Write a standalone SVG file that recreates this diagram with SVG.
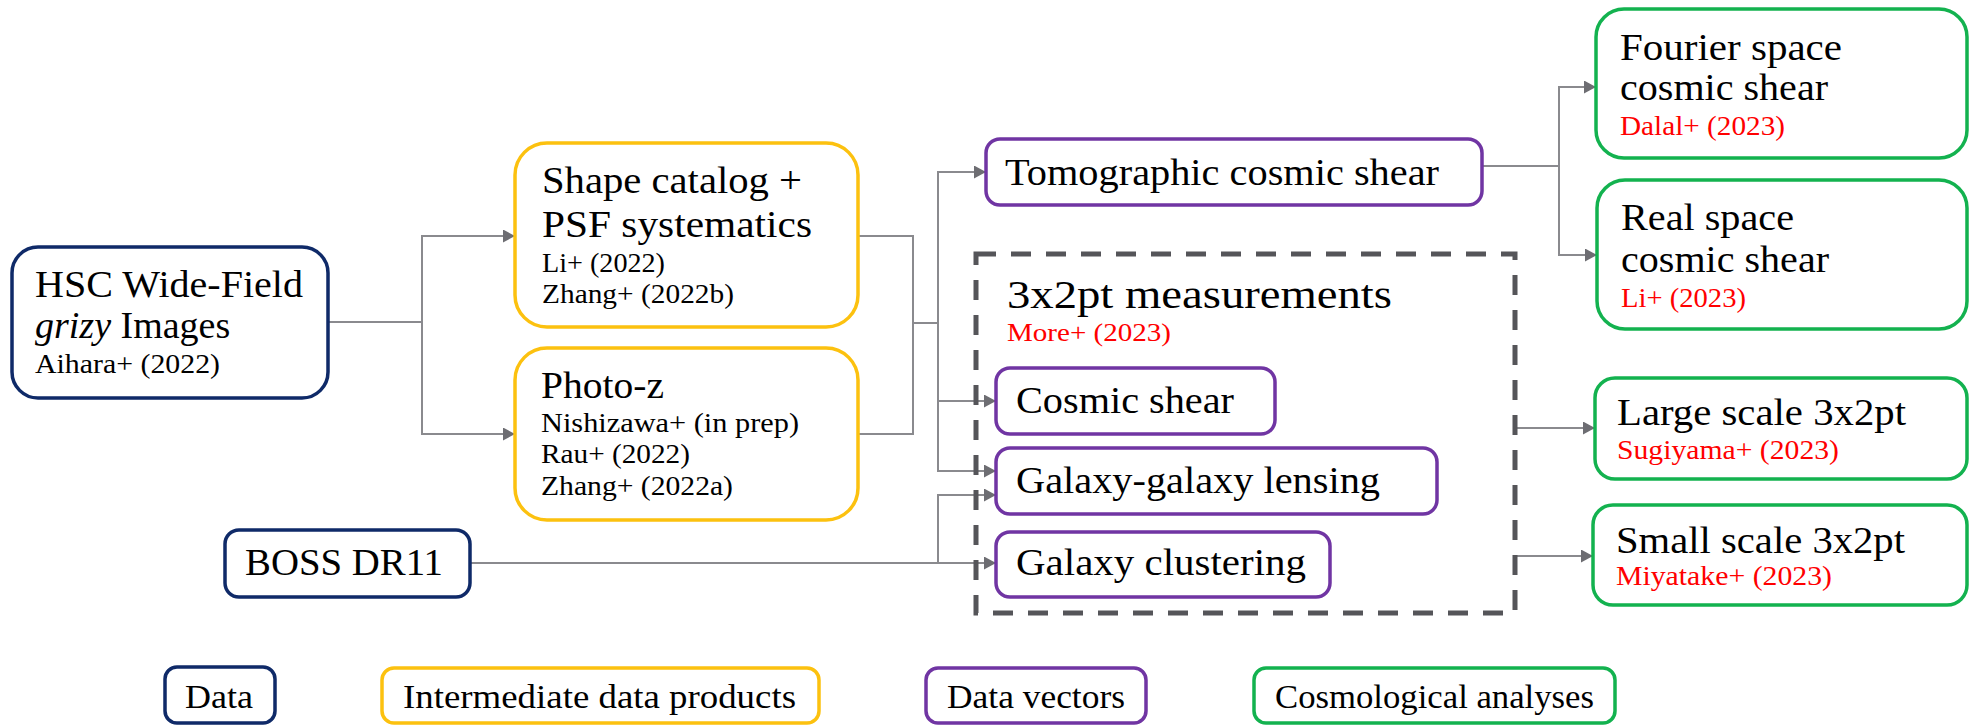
<svg xmlns="http://www.w3.org/2000/svg" width="1975" height="725" viewBox="0 0 1975 725">
<defs>
<marker id="arr" markerUnits="userSpaceOnUse" markerWidth="13" markerHeight="13" refX="12" refY="6.5" orient="auto">
<path d="M0,0 L12,6.5 L0,13 z" fill="#6d6d72"/>
</marker>
<style>
.t{font-family:"Liberation Serif","Times New Roman",serif;fill:#000}
.m{font-size:38px}
.s{font-size:28px}
.l{font-size:34px}
.red{fill:#ff0000}
.box{fill:#fff;stroke-width:3.5}
.navy{stroke:#0f2a68}
.gold{stroke:#fcc10f}
.purp{stroke:#7035a3}
.grn{stroke:#13b24f}
.con{fill:none;stroke:#8a8a8e;stroke-width:2}
.dash{fill:none;stroke:#555559;stroke-width:5;stroke-dasharray:20 15}
</style>
</defs>
<rect width="1975" height="725" fill="#fff"/>

<g id="connectors">
<path class="con" d="M328,322 H422 V236 H515" marker-end="url(#arr)"/>
<path class="con" d="M422,322 V434 H515" marker-end="url(#arr)"/>
<path class="con" d="M858,236 H913 V434 H858"/>
<path class="con" d="M913,323 H938"/>
<path class="con" d="M938,323 V172 H986" marker-end="url(#arr)"/>
<path class="con" d="M938,323 V401 H996" marker-end="url(#arr)"/>
<path class="con" d="M938,401 V471 H996" marker-end="url(#arr)"/>
<path class="con" d="M470,563 H996" marker-end="url(#arr)"/>
<path class="con" d="M938,563 V495 H996" marker-end="url(#arr)"/>
<path class="con" d="M1482,166 H1559 V87 H1596" marker-end="url(#arr)"/>
<path class="con" d="M1559,166 V255 H1597" marker-end="url(#arr)"/>
<path class="con" d="M1515,428 H1595" marker-end="url(#arr)"/>
<path class="con" d="M1515,556 H1593" marker-end="url(#arr)"/>
</g>

<g id="group-3x2pt">
<rect class="dash" x="976" y="254" width="539" height="359"/>
<text class="t" x="1007" y="308" font-size="39" textLength="385" lengthAdjust="spacingAndGlyphs">3x2pt measurements</text>
<text class="t red" x="1007" y="341" font-size="26" textLength="164" lengthAdjust="spacingAndGlyphs">More+ (2023)</text>
</g>

<g id="hsc">
<rect class="box navy" x="12" y="247" width="316" height="151" rx="26"/>
<text class="t m" x="35" y="297" textLength="268" lengthAdjust="spacingAndGlyphs">HSC Wide-Field</text>
<text class="t m" x="35" y="338"><tspan font-style="italic">grizy</tspan> Images</text>
<text class="t s" x="35" y="373" textLength="185" lengthAdjust="spacingAndGlyphs">Aihara+ (2022)</text>
</g>

<g id="boss">
<rect class="box navy" x="225" y="530" width="245" height="67" rx="14"/>
<text class="t m" x="245" y="575" textLength="198" lengthAdjust="spacingAndGlyphs">BOSS DR11</text>
</g>

<g id="shape">
<rect class="box gold" x="515" y="143" width="343" height="184" rx="32"/>
<text class="t m" x="542" y="193" textLength="260" lengthAdjust="spacingAndGlyphs">Shape catalog +</text>
<text class="t m" x="542" y="237" textLength="270" lengthAdjust="spacingAndGlyphs">PSF systematics</text>
<text class="t s" x="542" y="272" textLength="123" lengthAdjust="spacingAndGlyphs">Li+ (2022)</text>
<text class="t s" x="542" y="303" textLength="192" lengthAdjust="spacingAndGlyphs">Zhang+ (2022b)</text>
</g>

<g id="photoz">
<rect class="box gold" x="515" y="348" width="343" height="172" rx="32"/>
<text class="t m" x="541" y="398" textLength="123" lengthAdjust="spacingAndGlyphs">Photo-z</text>
<text class="t s" x="541" y="432" textLength="258" lengthAdjust="spacingAndGlyphs">Nishizawa+ (in prep)</text>
<text class="t s" x="541" y="463" textLength="149" lengthAdjust="spacingAndGlyphs">Rau+ (2022)</text>
<text class="t s" x="541" y="495" textLength="192" lengthAdjust="spacingAndGlyphs">Zhang+ (2022a)</text>
</g>

<g id="tomographic">
<rect class="box purp" x="986" y="139" width="496" height="66" rx="14"/>
<text class="t m" x="1005" y="185" textLength="434" lengthAdjust="spacingAndGlyphs">Tomographic cosmic shear</text>
</g>

<g id="cosmic-shear">
<rect class="box purp" x="996" y="368" width="279" height="66" rx="14"/>
<text class="t m" x="1016" y="413" textLength="218" lengthAdjust="spacingAndGlyphs">Cosmic shear</text>
</g>

<g id="ggl">
<rect class="box purp" x="996" y="448" width="441" height="66" rx="14"/>
<text class="t m" x="1016" y="493" textLength="364" lengthAdjust="spacingAndGlyphs">Galaxy-galaxy lensing</text>
</g>

<g id="clustering">
<rect class="box purp" x="996" y="532" width="334" height="65" rx="14"/>
<text class="t m" x="1016" y="575" textLength="290" lengthAdjust="spacingAndGlyphs">Galaxy clustering</text>
</g>

<g id="fourier">
<rect class="box grn" x="1596" y="9" width="371" height="149" rx="28"/>
<text class="t m" x="1620" y="60" textLength="222" lengthAdjust="spacingAndGlyphs">Fourier space</text>
<text class="t m" x="1620" y="100" textLength="208" lengthAdjust="spacingAndGlyphs">cosmic shear</text>
<text class="t s red" x="1620" y="135" textLength="165" lengthAdjust="spacingAndGlyphs">Dalal+ (2023)</text>
</g>

<g id="real">
<rect class="box grn" x="1597" y="180" width="370" height="149" rx="28"/>
<text class="t m" x="1621" y="230" textLength="173" lengthAdjust="spacingAndGlyphs">Real space</text>
<text class="t m" x="1621" y="272" textLength="208" lengthAdjust="spacingAndGlyphs">cosmic shear</text>
<text class="t s red" x="1621" y="307" textLength="125" lengthAdjust="spacingAndGlyphs">Li+ (2023)</text>
</g>

<g id="large">
<rect class="box grn" x="1595" y="378" width="372" height="101" rx="20"/>
<text class="t m" x="1617" y="425" textLength="289" lengthAdjust="spacingAndGlyphs">Large scale 3x2pt</text>
<text class="t s red" x="1617" y="459" textLength="222" lengthAdjust="spacingAndGlyphs">Sugiyama+ (2023)</text>
</g>

<g id="small">
<rect class="box grn" x="1593" y="505" width="374" height="100" rx="20"/>
<text class="t m" x="1616" y="553" textLength="289" lengthAdjust="spacingAndGlyphs">Small scale 3x2pt</text>
<text class="t s red" x="1616" y="585" textLength="216" lengthAdjust="spacingAndGlyphs">Miyatake+ (2023)</text>
</g>

<g id="legend-data">
<rect class="box navy" x="165" y="667" width="110" height="56" rx="12" stroke-width="3"/>
<text class="t l" x="185" y="708" textLength="68" lengthAdjust="spacingAndGlyphs">Data</text>
</g>
<g id="legend-intermediate">
<rect class="box gold" x="382" y="668" width="437" height="55" rx="12" stroke-width="3"/>
<text class="t l" x="403" y="708" textLength="393" lengthAdjust="spacingAndGlyphs">Intermediate data products</text>
</g>
<g id="legend-vectors">
<rect class="box purp" x="926" y="668" width="220" height="55" rx="12" stroke-width="3"/>
<text class="t l" x="947" y="708" textLength="178" lengthAdjust="spacingAndGlyphs">Data vectors</text>
</g>
<g id="legend-cosmo">
<rect class="box grn" x="1254" y="668" width="361" height="55" rx="12" stroke-width="3"/>
<text class="t l" x="1275" y="708" textLength="319" lengthAdjust="spacingAndGlyphs">Cosmological analyses</text>
</g>
</svg>
